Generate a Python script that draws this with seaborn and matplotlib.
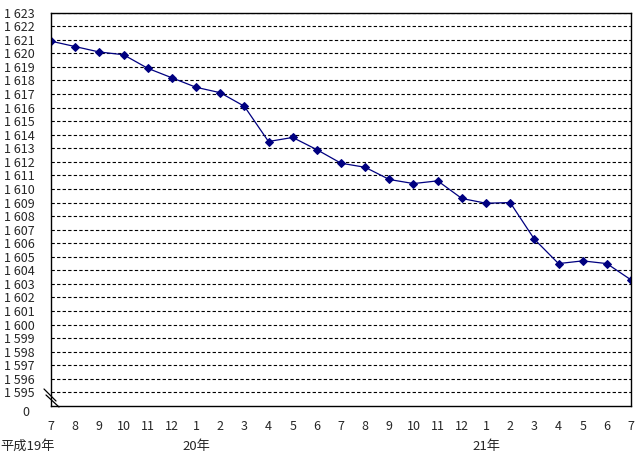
import matplotlib
matplotlib.use("Agg")
import matplotlib.pyplot as plt
import seaborn as sns
import pandas as pd
from matplotlib.lines import Line2D

months = ["7", "8", "9", "10", "11", "12", "1", "2", "3", "4", "5", "6",
          "7", "8", "9", "10", "11", "12", "1", "2", "3", "4", "5", "6", "7"]
values = [1620.9, 1620.5, 1620.1, 1619.9, 1618.9, 1618.2, 1617.5, 1617.1, 1616.1,
          1613.5, 1613.8, 1612.9, 1611.9, 1611.6, 1610.7, 1610.4, 1610.6, 1609.3,
          1608.95, 1609.0, 1606.3, 1604.5, 1604.7, 1604.5, 1603.3]
y_ticks = list(range(1595, 1624))
year_labels = ["平成19年", "20年", "21年"]
year_positions = [None, 6, 18]

sns.set_theme(style="white")
plt.rcParams['font.family'] = ['Noto Sans CJK JP', 'DejaVu Sans']

df = pd.DataFrame({"pos": range(len(values)), "value": values})

fig = plt.figure(figsize=(6.4, 4.58), dpi=100)
ax = fig.add_axes([51/640, 1 - 406/458, 580/640, (406 - 12.67)/458])

sns.lineplot(data=df, x="pos", y="value", ax=ax, color="#000080", linewidth=0.9,
             marker="D", markersize=4.5, markeredgecolor="#000080",
             markerfacecolor="#000080")

ax.set_xlim(0, len(values) - 1)
ax.set_ylim(1594, 1623)
ax.set_yticks(y_ticks)
ax.set_yticklabels([f"{v // 1000} {v % 1000:03d}" for v in y_ticks], fontsize=9)
ax.yaxis.grid(True, color="black", linestyle=(0, (3, 2)), linewidth=0.8)
ax.set_axisbelow(True)
ax.tick_params(axis="y", length=0, pad=12)

ax.set_xticks(range(len(months)))
ax.set_xticklabels(months, fontsize=9)
ax.tick_params(axis="x", direction="in", length=4, width=0.8, color="black", pad=10)
ax.set_xlabel("")
ax.set_ylabel("")

for s in ax.spines.values():
    s.set_color("black")
    s.set_linewidth(1.0)

# "0" label at the broken bottom of the axis
ax.text(-0.038, 1594, "0", transform=ax.get_yaxis_transform(), ha="right",
        va="top", fontsize=9)

# break marks
for (x0, y0, x1, y1) in [(44, 389, 56, 401), (46, 395, 59, 407)]:
    fig.add_artist(Line2D([x0/640, x1/640], [1 - y0/458, 1 - y1/458],
                          color="black", linewidth=0.9))

# year labels
fig.text(0.0, 1 - 446.5/458, year_labels[0], fontsize=9.5, ha="left", va="center")
for lab, p in zip(year_labels[1:], year_positions[1:]):
    ax.text(p, -0.103, lab, transform=ax.get_xaxis_transform(), ha="center",
            va="center", fontsize=9.5)

fig.savefig("out.png", dpi=100, facecolor="white")
